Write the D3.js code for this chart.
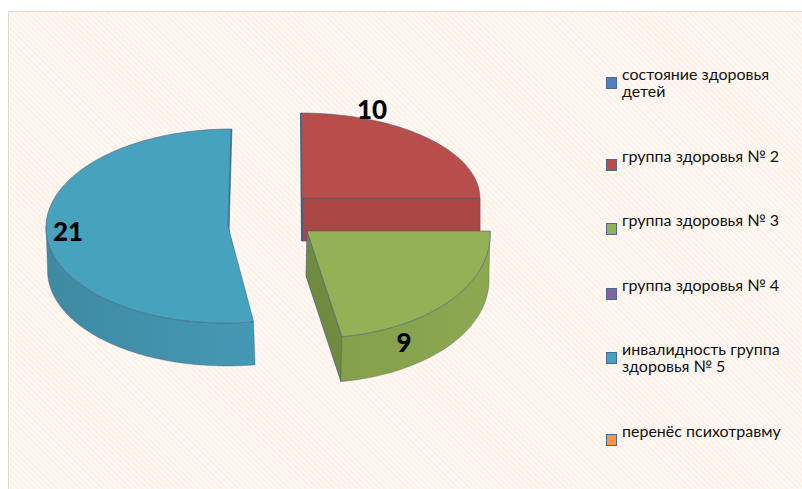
<!DOCTYPE html>
<html>
<head>
<meta charset="utf-8">
<script src="https://cdn.jsdelivr.net/npm/d3@7"></script>
<style>
  html, body { margin: 0; padding: 0; background: #fff; }
  svg { display: block; }
</style>
</head>
<body>
<div class="chart"></div>
<script>
// data
var categories = [
    'состояние здоровья детей',
    'группа здоровья № 2',
    'группа здоровья № 3',
    'группа здоровья № 4',
    'инвалидность группа здоровья № 5',
    'перенёс психотравму'
]
var values = [0, 10, 9, 0, 21, 0]
var legendLines = [
    ['состояние здоровья', 'детей'],
    ['группа здоровья № 2'],
    ['группа здоровья № 3'],
    ['группа здоровья № 4'],
    ['инвалидность группа', 'здоровья № 5'],
    ['перенёс психотравму']
]
var topColors = ['#4f81bd', '#b84e4c', '#95b155', '#8064a2', '#46a2be', '#f79646']
var wallLeft = { 1: '#a94644', 2: '#84a04c', 4: '#3f8aa3' }
var wallRight = { 1: '#a94644', 2: '#8ca851', 4: '#4598b4' }
var cutColors = { 1: '#a94644', 2: '#6f8a3f', 4: '#3c86a0' }

// layout: the exploded slices sit at slightly different places because of the perspective
var sliceLayout = {
    1: { cx: 302, cy: 198, rx: 178, ry: 85, skew: 0.012, dx: 0, dy: 43 },
    2: { cx: 307, cy: 231, rx: 183, ry: 107, skew: 0.06, dx: -1, dy: 45 },
    4: { cx: 228, cy: 226, rx: 182, ry: 97, skew: -0.03, dx: 1.5, dy: 43 }
}
var labelPos = { 1: [372, 110], 2: [404, 343], 4: [68, 232] }
var legendY = [77, 159, 223, 288, 352, 434]
var drawOrder = [4, 1, 2]

var svgWidth = 802
var svgHeight = 489

var svg = d3.select('.chart')
    .append('svg')
    .attr('width', svgWidth)
    .attr('height', svgHeight)

var defs = svg.append('defs')

var pattern = defs.append('pattern')
    .attr('id', 'bg')
    .attr('width', 4)
    .attr('height', 4)
    .attr('patternUnits', 'userSpaceOnUse')
    .attr('patternTransform', 'rotate(45)')
pattern.append('rect').attr('width', 4).attr('height', 4).attr('fill', '#fffaf6')
pattern.append('rect').attr('width', 4).attr('height', 2).attr('fill', '#fef1e8')

// the reference is a slightly soft screenshot
defs.append('filter')
    .attr('id', 'soft')
    .append('feGaussianBlur')
    .attr('stdDeviation', 0.4)

// chart area, border only shows on the top and left
svg.append('rect')
    .attr('x', 8)
    .attr('y', 11)
    .attr('width', svgWidth - 8)
    .attr('height', svgHeight - 11)
    .attr('fill', 'url(#bg)')
svg.append('path')
    .attr('d', `M8.5,${svgHeight}V11.5H${svgWidth}`)
    .attr('fill', 'none')
    .attr('stroke', '#dcdad8')

var arcs = d3.pie().sort(null).value(d => d)(values)

var line = d3.line()
var edge = '#46607c'

function point(g, a) {
    var y = g.cy - g.ry * Math.cos(a)
    return [g.cx + g.rx * Math.sin(a) + g.skew * (y - g.cy), y]
}

function sampleArc(g, a0, a1) {
    var n = Math.max(2, Math.ceil((a1 - a0) * 40))
    return d3.range(n + 1).map(i => point(g, a0 + (a1 - a0) * i / n))
}

function shift(g, p) {
    return [p[0] + g.dx, p[1] + g.dy]
}

var pie = svg.append('g').attr('filter', 'url(#soft)')

drawOrder.forEach(function(i) {
    var g = sliceLayout[i]
    var a0 = arcs[i].startAngle
    var a1 = arcs[i].endAngle
    var group = pie.append('g')
    var center = [g.cx, g.cy]

    // gradient for the rounded wall
    var grad = defs.append('linearGradient')
        .attr('id', 'wall' + i)
    grad.append('stop').attr('offset', '0%').attr('stop-color', wallLeft[i])
    grad.append('stop').attr('offset', '100%').attr('stop-color', wallRight[i])

    // cut faces that can be seen
    if (i === 1) {
        var right = point(g, a1)
        group.append('path')
            .attr('d', line([center, right, shift(g, right), shift(g, center)]) + 'Z')
            .attr('fill', cutColors[i])
            .attr('stroke', '#8b4a52')
            .attr('stroke-width', 0.8)
        group.append('path')
            .attr('d', line([point(g, a0), shift(g, center)]))
            .attr('stroke', '#3f5f8e')
            .attr('stroke-width', 2)
    }
    if (i === 2) {
        var tip = point(g, a1)
        group.append('path')
            .attr('d', line([center, tip, shift(g, tip), shift(g, center)]) + 'Z')
            .attr('fill', cutColors[i])
            .attr('stroke', edge)
            .attr('stroke-width', 0.7)
    }
    if (i === 4) {
        var far = point(g, a1)
        group.append('path')
            .attr('d', line([center, far, [far[0] + 1, far[1]], [center[0] + 1, center[1] + 6]]) + 'Z')
            .attr('fill', cutColors[i])
            .attr('stroke', edge)
            .attr('stroke-width', 0.7)
    }

    // outer wall, only the part that faces the viewer
    var w0 = Math.max(a0, Math.PI / 2)
    var w1 = Math.min(a1, Math.PI * 1.5)
    if (w1 > w0) {
        var outer = sampleArc(g, w0, w1)
        var wall = outer.concat(outer.slice().reverse().map(p => shift(g, p)))
        group.append('path')
            .attr('d', line(wall) + 'Z')
            .attr('fill', `url(#wall${i})`)
            .attr('stroke', edge)
            .attr('stroke-width', 0.6)
            .attr('stroke-opacity', 0.6)
    }

    // top face
    group.append('path')
        .attr('d', line([center].concat(sampleArc(g, a0, a1))) + 'Z')
        .attr('fill', topColors[i])
        .attr('stroke', edge)
        .attr('stroke-width', 0.8)
        .attr('stroke-opacity', 0.7)
})

// value labels
svg.append('g')
    .selectAll('text')
    .data(drawOrder)
    .join('text')
    .attr('x', i => labelPos[i][0])
    .attr('y', i => labelPos[i][1])
    .attr('dy', '0.35em')
    .attr('text-anchor', 'middle')
    .attr('font-family', 'Lato, sans-serif')
    .attr('font-weight', 900)
    .attr('font-size', '26px')
    .attr('fill', '#000')
    .text(i => values[i])

// legend
var legend = svg.append('g')
    .selectAll('g')
    .data(categories)
    .join('g')
    .attr('transform', (d, i) => `translate(606, ${legendY[i]})`)

legend.append('rect')
    .attr('x', 0.5)
    .attr('y', 0.5)
    .attr('width', 10)
    .attr('height', 11)
    .attr('fill', (d, i) => topColors[i])
    .attr('stroke', '#4a6a94')

legend.append('text')
    .attr('font-family', 'Lato, sans-serif')
    .attr('font-size', '16px')
    .attr('fill', '#111')
    .selectAll('tspan')
    .data((d, i) => legendLines[i])
    .join('tspan')
    .attr('x', 16)
    .attr('y', (d, j) => 3 + j * 17)
    .text(d => d)
</script>
</body>
</html>
